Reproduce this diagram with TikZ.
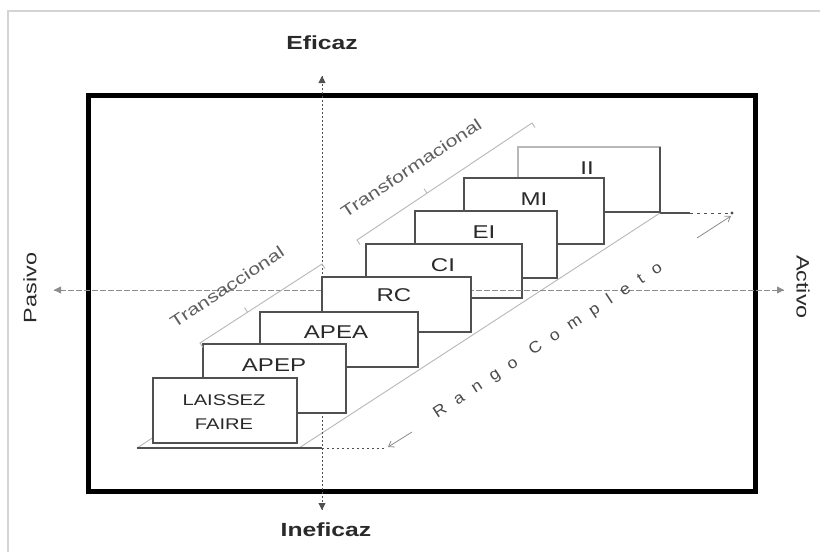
\documentclass[tikz,border=0pt]{standalone}
\usepackage{fontspec}
\setmainfont{Liberation Sans}[FakeStretch=1.3]
\newfontfamily\rangofont{Liberation Sans}[FakeStretch=1.1,LetterSpace=72]
\usetikzlibrary{arrows.meta,calc}
\definecolor{boxgray}{HTML}{505050}
\definecolor{txtgray}{HTML}{2A2A2A}
\definecolor{diaggray}{HTML}{B8B8B8}
\definecolor{framegray}{HTML}{D4D4D4}
\definecolor{axisgray}{HTML}{8C8C8C}
\begin{document}
\begin{tikzpicture}[x=1pt,y=-1pt,
  stepbox/.style={draw=boxgray, line width=1.1pt, fill=white, inner sep=0pt, outer sep=0pt, anchor=north west},
  boxlabel/.style={text=txtgray, font=\fontsize{18.5}{20}\selectfont, inner sep=0pt},
  smalllabel/.style={text=txtgray, font=\fontsize{15.5}{24}\selectfont, inner sep=0pt, align=center},
  axislab/.style={text=txtgray, font=\fontsize{18}{20}\selectfont, inner sep=0pt},
  boldlab/.style={text=txtgray, font=\fontsize{19}{20}\selectfont\bfseries, inner sep=0pt},
  slantlab/.style={text=txtgray!75, font=\fontsize{16.5}{18}\selectfont, inner sep=0pt, rotate=33.5},
  diag/.style={draw=diaggray, line width=0.9pt},
  bracket/.style={draw=diaggray, line width=0.9pt},
  tip/.style={-{Triangle[length=7pt,width=7pt]}},
  barb/.style={draw=axisgray, line width=0.8pt, -{Straight Barb[length=5pt,width=7pt]}}
]
\useasboundingbox (0,0) rectangle (820,552);
\fill[white] (0,0) rectangle (820,552);

% outer faint frame
\coordinate (frTR) at (820,11);
\coordinate (frTL) at (8,11);
\coordinate (frBL) at (8,552);
\draw[framegray, line width=1.5pt] (frTR) -- (frTL) -- (frBL);

% thick box
\node[draw=black, line width=4.5pt, inner sep=0pt, minimum width=667pt, minimum height=396pt, anchor=north west] (frame) at (86,93) {};

% diagonals
\coordinate (dsA) at (137,448);
\coordinate (dsB) at (220,394);
\draw[diag] (dsA) -- (dsB);
\coordinate (dgA) at (299,448);
\coordinate (dgB) at (660,213);
\draw[diag] (dgA) -- (dgB);

% back boxes
\node[stepbox, draw=diaggray, minimum width=142pt, minimum height=65pt] (ii) at (518,147) {};
\draw[boxgray, line width=1.1pt] (ii.north east) -- (ii.south east) -- (ii.south west);
\node[boxlabel] (iit) at (587,168) {II};
\node[stepbox, minimum width=140pt, minimum height=66pt] (mi) at (464,178) {};
\node[boxlabel] (mit) at (534,199) {MI};
\node[stepbox, minimum width=142pt, minimum height=67pt] (ei) at (415,211) {};
\node[boxlabel] (eit) at (484,232) {EI};
\node[stepbox, minimum width=156pt, minimum height=54pt] (ci) at (366,244) {};
\node[boxlabel] (cit) at (443,265) {CI};

% axes
\coordinate (axL) at (54,290);
\coordinate (axR) at (784,290);
\coordinate (axT) at (322,76);
\coordinate (axB) at (322,510);
\draw[axisgray, line width=0.8pt, dash pattern=on 4pt off 4pt, tip] (axL) -- (axR);
\draw[axisgray, line width=0.8pt, dash pattern=on 4pt off 4pt, tip] (axR) -- (axL);
\draw[boxgray, line width=0.9pt, dash pattern=on 1.5pt off 2.5pt, tip] (axT) -- (axB);
\draw[boxgray, line width=0.9pt, dash pattern=on 1.5pt off 2.5pt, tip] (axB) -- (axT);

% front boxes
\node[stepbox, minimum width=149pt, minimum height=55pt] (rc) at (322,277) {};
\node[boxlabel] (rct) at (394,295) {RC};
\node[stepbox, minimum width=158pt, minimum height=55pt] (apea) at (260,312) {};
\node[boxlabel] (apeat) at (336,332) {APEA};
\node[stepbox, minimum width=143pt, minimum height=69pt] (apep) at (203,344) {};
\node[boxlabel] (apept) at (274,365) {APEP};
\node[stepbox, minimum width=144pt, minimum height=65pt] (lf) at (153,378) {};
\node[smalllabel] (lft) at (224,412) {LAISSEZ\\FAIRE};

% base lines
\coordinate (bsA) at (137,448);
\coordinate (bsB) at (322,448);
\coordinate (bsC) at (386,448);
\draw[boxgray, line width=1.1pt] (bsA) -- (bsB);
\draw[boxgray, line width=0.9pt, dash pattern=on 2pt off 3pt] (bsB) -- (bsC);
\coordinate (tsA) at (660,213);
\coordinate (tsB) at (690,213);
\coordinate (tsC) at (732,213);
\draw[boxgray, line width=1.1pt] (tsA) -- (tsB);
\draw[boxgray, line width=0.9pt, dash pattern=on 3pt off 4pt] (tsB) -- (tsC);
\fill[boxgray] (tsC) circle (1.6pt);

% Rango Completo arrows
\coordinate (raA) at (412,432);
\coordinate (raB) at (388,447);
\draw[barb] (raA) -- (raB);
\coordinate (rbA) at (697,238);
\coordinate (rbB) at (731,216);
\draw[barb] (rbA) -- (rbB);
\node[text=txtgray!85, font=\rangofont\fontsize{16}{16}\selectfont, rotate=33.3, inner sep=0pt] (rango) at (548,341) {Rango Completo};

% brackets
\coordinate (taA) at (200,343);
\coordinate (taB) at (322,264);
\draw[bracket] ($(taA)+(3,4.5)$) -- (taA) -- (taB) -- ($(taB)+(3,4.5)$);
\draw[bracket] ($(taA)!0.39!(taB)$) -- ++(-3,-4.5);
\node[slantlab] (trans) at (227,287) {Transaccional};

\coordinate (tfA) at (357,240);
\coordinate (tfB) at (532,123);
\draw[bracket] ($(tfA)+(3,4.5)$) -- (tfA) -- (tfB) -- ($(tfB)+(3,4.5)$);
\draw[bracket] ($(tfA)!0.4!(tfB)$) -- ++(-3,-4.5);
\node[slantlab] (transf) at (411,168) {Transformacional};

% axis labels
\node[boldlab] (efi) at (322,43) {Eficaz};
\node[boldlab] (inefi) at (326,530) {Ineficaz};
\node[axislab, rotate=90] (pas) at (30,288) {Pasivo};
\node[axislab, rotate=-90] (act) at (803,287) {Activo};
\end{tikzpicture}
\end{document}
